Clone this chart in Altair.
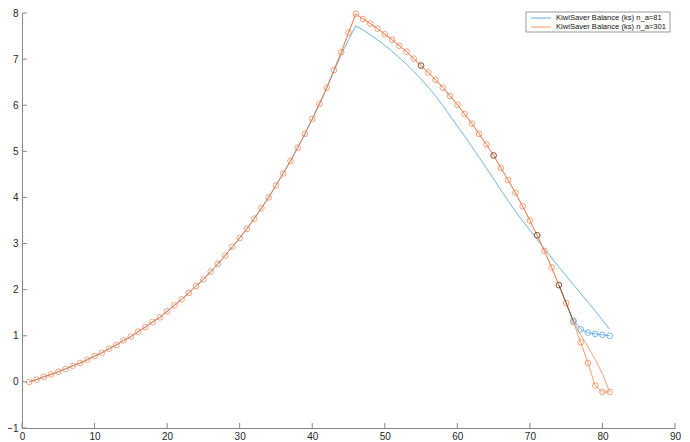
import altair as alt
import pandas as pd

LABEL_81 = "KiwiSaver Balance (ks) n_a=81"
LABEL_301 = "KiwiSaver Balance (ks) n_a=301"
BLUE = "#4a9fdd"
ORANGE = "#f0834f"
DARK = "#5e4c44"

ages = list(range(1, 82))

ks_301 = [0.00, 0.05, 0.11, 0.16, 0.22, 0.28, 0.35, 0.41, 0.48, 0.56,
          0.63, 0.72, 0.80, 0.90, 0.98, 1.09, 1.19, 1.30, 1.40, 1.53,
          1.66, 1.79, 1.93, 2.08, 2.22, 2.39, 2.56, 2.74, 2.93, 3.12,
          3.32, 3.54, 3.77, 4.00, 4.26, 4.52, 4.79, 5.08, 5.38, 5.70,
          6.03, 6.38, 6.76, 7.15, 7.57, 7.98, 7.87, 7.77, 7.66, 7.54,
          7.42, 7.29, 7.16, 7.01, 6.86, 6.71, 6.55, 6.38, 6.20, 6.01,
          5.81, 5.60, 5.38, 5.15, 4.91, 4.64, 4.38, 4.10, 3.81, 3.50,
          3.18, 2.84, 2.48, 2.10, 1.71, 1.30, 0.86, 0.41, -0.08, -0.22,
          -0.22]

ks_81 = [0.00, 0.05, 0.11, 0.16, 0.22, 0.28, 0.35, 0.41, 0.48, 0.56,
         0.63, 0.72, 0.80, 0.90, 0.98, 1.09, 1.19, 1.30, 1.40, 1.53,
         1.66, 1.79, 1.93, 2.08, 2.22, 2.39, 2.56, 2.74, 2.93, 3.12,
         3.32, 3.54, 3.77, 4.00, 4.26, 4.52, 4.79, 5.08, 5.38, 5.70,
         6.03, 6.37, 6.74, 7.10, 7.42, 7.72, 7.63, 7.53, 7.42, 7.30,
         7.17, 7.03, 6.89, 6.73, 6.57, 6.39, 6.20, 5.99, 5.77, 5.55,
         5.33, 5.10, 4.87, 4.64, 4.40, 4.16, 3.93, 3.70, 3.49, 3.29,
         3.09, 2.88, 2.69, 2.49, 2.30, 2.11, 1.92, 1.73, 1.54, 1.34,
         1.14]

fine_ages = [76, 77, 78, 79, 80, 81]
ks_301_fine_tail = [1.30, 1.02, 0.76, 0.49, 0.17, -0.22]

blue_marker_ages = [76, 77, 78, 79, 80, 81]
blue_marker_vals = [1.33, 1.14, 1.07, 1.04, 1.02, 1.00]

dark_ages = [55, 65, 71, 74]
dark_vals = [6.86, 4.91, 3.18, 2.10]
dark_seg_ages = [74, 75, 76]
dark_seg_vals = [2.10, 1.71, 1.32]

x_ticks = [0, 10, 20, 30, 40, 50, 60, 70, 80, 90]
y_ticks = [-1, 0, 1, 2, 3, 4, 5, 6, 7, 8]

legend_labels = [LABEL_81, LABEL_301]
legend_colors = [BLUE, ORANGE]

W, H = 653, 415

df_blue = pd.DataFrame({"age": ages, "ks": ks_81})
df_ofine = pd.DataFrame({"age": ages[:75] + fine_ages, "ks": ks_301[:75] + ks_301_fine_tail})
df_orange = pd.DataFrame({"age": ages, "ks": ks_301})
df_bm = pd.DataFrame({"age": blue_marker_ages, "ks": blue_marker_vals})
df_dark = pd.DataFrame({"age": dark_ages, "ks": dark_vals})
df_dseg = pd.DataFrame({"age": dark_seg_ages, "ks": dark_seg_vals})
df_xt = pd.DataFrame({"t": x_ticks})
df_yt = pd.DataFrame({"t": y_ticks})
df_one = pd.DataFrame({"k": [0]})

xs = alt.Scale(domain=[0, 90], nice=False, zero=False)
ys = alt.Scale(domain=[-1, 8], nice=False, zero=False)
X = alt.X("age:Q", scale=xs, axis=alt.Axis(values=x_ticks, title=None, labelPadding=3,
                                          labelFlush=False))
Y = alt.Y("ks:Q", scale=ys, axis=alt.Axis(values=y_ticks, title=None, labelPadding=4,
                                          labelFlush=False))


def line(df, color):
    return alt.Chart(df).mark_line(strokeWidth=0.8, stroke=color).encode(x=X, y=Y, order="age:Q")


def pts(df, color):
    return alt.Chart(df).mark_point(shape="circle", filled=False, size=32, strokeWidth=0.75,
                                    stroke=color, opacity=1).encode(x=X, y=Y)


blue_line = line(df_blue, BLUE)
ofine_line = line(df_ofine, ORANGE)
orange_line = line(df_orange, ORANGE)
orange_pts = pts(df_orange, ORANGE)
bm_line = line(df_bm, BLUE)
bm_pts = pts(df_bm, BLUE)
dseg = line(df_dseg, DARK)
dark_pts = pts(df_dark, DARK)

xt = alt.Chart(df_xt).mark_rule(color="#868686", strokeWidth=1).encode(
    x=alt.X("t:Q", scale=xs), y=alt.value(H), y2=alt.value(H - 5))
yt = alt.Chart(df_yt).mark_rule(color="#868686", strokeWidth=1).encode(
    y=alt.Y("t:Q", scale=ys), x=alt.value(0), x2=alt.value(5))

# legend (drawn as marks in the top-right corner)
LX0, LX1, LY0, LY1 = 504, 648, -1, 19
legend_box = alt.Chart(df_one).mark_rect(fill="white", stroke="#9a9a9a", strokeWidth=1).encode(
    x=alt.value(LX0), x2=alt.value(LX1), y=alt.value(LY0), y2=alt.value(LY1))
legend_layers = [legend_box]
for i, (lab, col) in enumerate(zip(legend_labels, legend_colors)):
    yy = 5 + 9 * i
    legend_layers.append(alt.Chart(df_one).mark_rule(stroke=col, strokeWidth=1, opacity=0.85).encode(
        x=alt.value(LX0 + 5), x2=alt.value(LX0 + 25), y=alt.value(yy)))
    legend_layers.append(alt.Chart(df_one).mark_text(
        text=lab, align="left", baseline="middle", font="Liberation Sans", fontSize=7.6,
        color="#111").encode(x=alt.value(LX0 + 30), y=alt.value(yy)))

chart = alt.layer(ofine_line, blue_line, orange_line, orange_pts, dseg, bm_line, bm_pts,
                  dark_pts, xt, yt, *legend_layers).properties(
    width=W, height=H,
    autosize=alt.AutoSizeParams(type="none"),
    padding={"left": 14, "top": 5, "right": 7, "bottom": 14},
).configure_view(stroke=None).configure_axis(
    grid=False, ticks=False, domainColor="#868686", domainWidth=1,
    labelColor="#262626", labelFont="Liberation Sans", labelFontSize=10,
)

chart.save("out.html", embed_options={"renderer": "svg", "actions": False})
